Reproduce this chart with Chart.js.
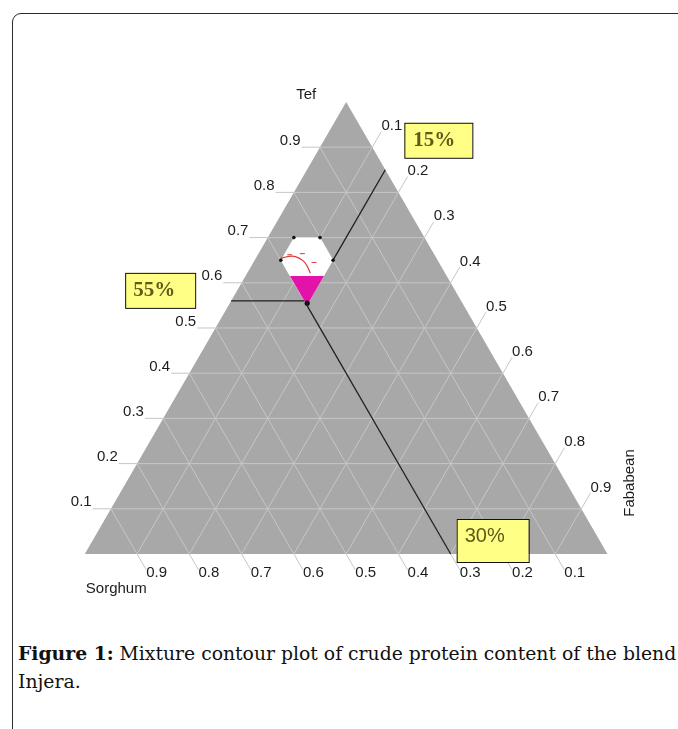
<!DOCTYPE html>
<html>
<head>
<meta charset="utf-8">
<script src="https://cdn.jsdelivr.net/npm/chart.js@4.4.1/dist/chart.umd.min.js"></script>
<style>
  body { margin: 0; background: #fff; width: 678px; height: 729px; overflow: hidden; position: relative; }
  #frame { position: absolute; left: 12px; top: 13px; width: 720px; height: 760px; border: 1.5px solid #2b2b2b; border-radius: 9px; }
  #wrap { position: absolute; left: 0; top: 0; width: 678px; height: 620px; }
  #caption { position: absolute; left: 18px; top: 639px; font-family: "DejaVu Serif", serif; font-size: 18.8px; line-height: 28px; color: #111; white-space: nowrap; }
  #caption b { font-weight: bold; }
</style>
</head>
<body>
<div id="frame"></div>
<div id="wrap"><canvas id="ternary" width="678" height="620"></canvas></div>
<div id="caption"><b>Figure 1:</b> Mixture contour plot of crude protein content of the blend<br>Injera.</div>
<script>
// tick values on each of the three axes
const tickValues = [0.1, 0.2, 0.3, 0.4, 0.5, 0.6, 0.7, 0.8, 0.9];
const tickLabels = ["0.1", "0.2", "0.3", "0.4", "0.5", "0.6", "0.7", "0.8", "0.9"];

// constrained mixture region (proportions)
const regionTef      = [0.70, 0.70, 0.65, 0.55, 0.65];
const regionFababean = [0.05, 0.10, 0.15, 0.15, 0.05];
const regionSorghum  = [0.25, 0.20, 0.20, 0.30, 0.30];

// highest crude protein zone (magenta)
const bestTef      = [0.615, 0.615, 0.55];
const bestFababean = [0.085, 0.15, 0.15];
const bestSorghum  = [0.30, 0.235, 0.30];

// red contour line + its small label marks
const contourTef      = [0.654, 0.658, 0.658, 0.649, 0.638, 0.621];
const contourFababean = [0.048, 0.059, 0.074, 0.093, 0.106, 0.121];
const contourSorghum  = [0.298, 0.283, 0.268, 0.258, 0.256, 0.258];
const markTef      = [0.662, 0.6645, 0.645];
const markFababean = [0.061, 0.084, 0.116];
const markSorghum  = [0.277, 0.2515, 0.239];

// optimum blend lines
const line15Tef = [0.85, 0.65], line15Fababean = [0.15, 0.15], line15Sorghum = [0.00, 0.20];
const line30Tef = [0.55, 0.00], line30Fababean = [0.15, 0.70], line30Sorghum = [0.30, 0.30];
const line55Tef = [0.56, 0.56], line55Fababean = [0.00, 0.14], line55Sorghum = [0.44, 0.30];
const optimumTef = [0.555], optimumFababean = [0.148], optimumSorghum = [0.297];
const percentLabels = ["15%", "55%", "30%"];

const H = Math.sqrt(3) / 2;
const EXT = 0.035; // tick extension outside the triangle

// sorghum = bottom left, fababean = bottom right, tef = apex
function toXY(t, f) {
  return { x: f + t / 2, y: t * H };
}
function pts(tef, fab) {
  return tef.map((t, i) => toXY(t, fab[i]));
}

const datasets = [];

// gray triangle
datasets.push({
  data: [toXY(0, 0), toXY(0, 1), toXY(1, 0), toXY(0, 0)],
  showLine: true, fill: "shape", backgroundColor: "#a8a8a8",
  borderWidth: 0, pointRadius: 0, order: 100,
});

// grid lines, each with its tick extension
tickValues.forEach((v) => {
  // tef = v : horizontal, extension to the left
  let a = toXY(v, 0);
  datasets.push({
    data: [{ x: a.x - EXT, y: a.y }, toXY(v, 1 - v)],
    showLine: true, borderColor: "#c6c6c6", borderWidth: 1, pointRadius: 0, order: 90,
  });
  // fababean = v : extension up-right beyond the right edge
  a = toXY(1 - v, v);
  datasets.push({
    data: [toXY(0, v), a, { x: a.x + EXT / 2, y: a.y + EXT * H }],
    showLine: true, borderColor: "#c6c6c6", borderWidth: 1, pointRadius: 0, order: 90,
  });
  // sorghum = v : extension down-right below the base
  a = toXY(0, 1 - v);
  datasets.push({
    data: [toXY(1 - v, 0), a, { x: a.x + EXT / 2, y: a.y - EXT * H }],
    showLine: true, borderColor: "#c6c6c6", borderWidth: 1, pointRadius: 0, order: 90,
  });
});

// white constrained region
const region = pts(regionTef, regionFababean);
datasets.push({
  data: region.concat([region[0]]),
  showLine: true, fill: "shape", backgroundColor: "#ffffff",
  borderWidth: 0, pointRadius: 0, order: 80,
});

// magenta zone
const best = pts(bestTef, bestFababean);
datasets.push({
  data: best.concat([best[0]]),
  showLine: true, fill: "shape", backgroundColor: "#e312a8",
  borderWidth: 0, pointRadius: 0, order: 70,
});

// red contour
datasets.push({
  data: pts(contourTef, contourFababean),
  showLine: true, borderColor: "#e03a3a", borderWidth: 1.2, pointRadius: 0,
  tension: 0.4, order: 60,
});
datasets.push({
  data: pts(markTef, markFababean),
  showLine: false, pointStyle: "line", pointRadius: 2.5, borderColor: "#e03a3a",
  borderWidth: 1, order: 60,
});

// black optimum lines
[[line15Tef, line15Fababean], [line30Tef, line30Fababean], [line55Tef, line55Fababean]].forEach((l) => {
  datasets.push({
    data: pts(l[0], l[1]),
    showLine: true, borderColor: "#1f1f1f", borderWidth: 1.3, pointRadius: 0, order: 50,
  });
});

// region vertices and optimum point
datasets.push({
  data: region.slice(0, 3).concat([region[4]]),
  showLine: false, pointRadius: 1.8, backgroundColor: "#111", borderWidth: 0, order: 40,
});
datasets.push({
  data: pts(optimumTef, optimumFababean),
  showLine: false, pointRadius: 2.6, backgroundColor: "#111", borderWidth: 0, order: 40,
});

const textPlugin = {
  id: "ternaryText",
  afterDatasetsDraw(chart) {
    const ctx = chart.ctx;
    const xs = chart.scales.x, ys = chart.scales.y;
    const px = (p) => [xs.getPixelForValue(p.x), ys.getPixelForValue(p.y)];
    ctx.save();
    ctx.fillStyle = "#1c1c1c";
    ctx.font = '15px "Liberation Sans", Arial, sans-serif';

    tickValues.forEach((v, i) => {
      let a = toXY(v, 0);
      let [x, y] = px({ x: a.x - EXT, y: a.y });
      ctx.textAlign = "right"; ctx.textBaseline = "bottom";
      ctx.fillText(tickLabels[i], x - 1, y + 1);

      a = toXY(1 - v, v);
      [x, y] = px({ x: a.x + EXT / 2, y: a.y + EXT * H });
      ctx.textAlign = "left"; ctx.textBaseline = "bottom";
      ctx.fillText(tickLabels[i], x, y + 2);

      a = toXY(0, 1 - v);
      [x, y] = px({ x: a.x + EXT / 2, y: a.y - EXT * H });
      ctx.textAlign = "left"; ctx.textBaseline = "top";
      ctx.fillText(tickLabels[i], x, y - 4);
    });

    // axis names
    let [x, y] = px(toXY(1, 0));
    ctx.textAlign = "center"; ctx.textBaseline = "middle";
    ctx.fillText("Tef", x - 40, y - 7);
    [x, y] = px(toXY(0, 0));
    ctx.textAlign = "left";
    ctx.fillText("Sorghum", x + 1, y + 35);
    [x, y] = px(toXY(0, 1));
    ctx.save();
    ctx.translate(x + 22, y - 71);
    ctx.rotate(-Math.PI / 2);
    ctx.textAlign = "center";
    ctx.fillText("Fababean", 0, 0);
    ctx.restore();

    // yellow percent boxes
    const box = (label, bx, by, w, h, font, tx, ty) => {
      ctx.fillStyle = "#ffff85";
      ctx.fillRect(bx, by, w, h);
      ctx.strokeStyle = "#111"; ctx.lineWidth = 1;
      ctx.strokeRect(bx + 0.5, by + 0.5, w, h);
      ctx.fillStyle = "#5e5a1c";
      ctx.font = font;
      ctx.textAlign = "left"; ctx.textBaseline = "middle";
      ctx.fillText(label, bx + tx, by + ty);
    };
    [x, y] = px(toXY(line15Tef[0], line15Fababean[0]));
    box(percentLabels[0], x + 19, y - 47, 68, 35, 'bold 21px "Liberation Serif", serif', 9, 18);
    [x, y] = px(toXY(line55Tef[0], line55Fababean[0]));
    box(percentLabels[1], x - 106, y - 28, 70, 35, 'bold 21px "Liberation Serif", serif', 8, 18);
    [x, y] = px(toXY(line30Tef[1], line30Fababean[1]));
    box(percentLabels[2], x + 6, y - 35, 72, 43, '20px "Liberation Sans", sans-serif', 8, 17);
    ctx.restore();
  },
};

const UNIT = 530.5;
new Chart(document.getElementById("ternary"), {
  type: "scatter",
  data: { datasets: datasets },
  options: {
    responsive: false,
    animation: false,
    layout: { padding: 0 },
    scales: {
      x: { type: "linear", display: false, min: -81 / UNIT, max: (678 - 81) / UNIT },
      y: { type: "linear", display: false, min: (558 - 620) / UNIT, max: 558 / UNIT },
    },
    plugins: { legend: { display: false }, tooltip: { enabled: false } },
  },
  plugins: [textPlugin],
});
</script>
</body>
</html>
